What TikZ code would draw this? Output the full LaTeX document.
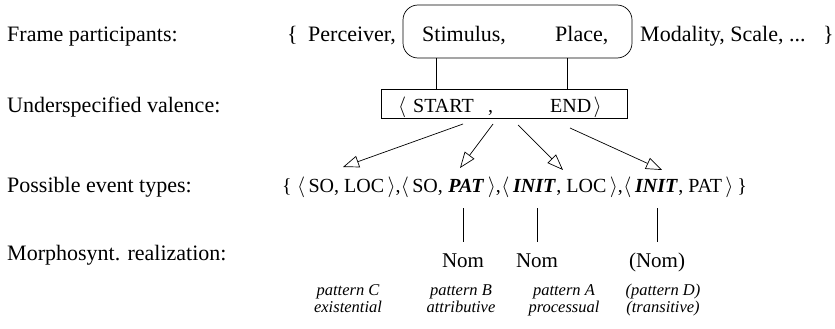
\documentclass[tikz,border=0pt]{standalone}
\usepackage{fontspec}
\setmainfont{Liberation Serif}
\usetikzlibrary{arrows.meta}
\begin{document}
\begin{tikzpicture}[x=1pt,y=-1pt,
  lab/.style={inner sep=0pt, anchor=base west, font=\fontsize{22}{26}\selectfont},
  big/.style={inner sep=0pt, anchor=base west, font=\fontsize{22}{26}\selectfont},
  ev/.style={inner sep=0pt, anchor=base west, font=\fontsize{20}{24}\selectfont},
  nom/.style={inner sep=0pt, anchor=base, font=\fontsize{21}{25}\selectfont},
  patt/.style={inner sep=0pt, anchor=base, font=\fontsize{16.5}{19}\selectfont\itshape},
  conn/.style={line width=0.7pt},
  tri/.style={conn, -{Triangle[open, length=16pt, width=12pt]}}]
\useasboundingbox (0,0) rectangle (835,329);

% row labels
\node[lab] (l1) at (7,42)  {Frame participants:};
\node[lab] (l2) at (7,112) {Underspecified valence:};
\node[lab] (l3) at (7,192) {Possible event types:};
\node[lab] (l4) at (7,260) {Morphosynt. realization:};

% frame participants
\node[big] (lb)    at (287,42) {\{};
\node[big] (perc)  at (308,42) {Perceiver,};
\node[big] (stim)  at (422,42) {Stimulus,};
\node[big] (place) at (555,42) {Place,};
\node[big] (rest)  at (640,42) {Modality, Scale, ...};
\node[big] (rb)    at (823,42) {\}};
\node[draw, conn, rounded corners=15pt, minimum width=229pt, minimum height=53pt, inner sep=0pt] (frame) at (517.5,31.5) {};

% underspecified valence
\node[draw, conn, minimum width=246pt, minimum height=29pt, inner sep=0pt] (val) at (504,103.5) {};
\node[ev] (vl)    at (398,112) {$\langle$};
\node[ev] (start) at (413,112) {START};
\node[ev] (vc)    at (488,112) {,};
\node[ev] (end)   at (550,112) {END};
\node[ev] (vr)    at (end.base east) {\kern2pt$\rangle$};

\coordinate (stimfoot)  at (436,0);
\coordinate (placefoot) at (567,0);
\draw[conn] (stimfoot |- frame.south) -- (stimfoot |- val.north);
\draw[conn] (placefoot |- frame.south) -- (placefoot |- val.north);

% possible event types
\node[ev] (ob)    at (282,192) {\{\kern5pt};
\node[ev] (t1)    at (ob.base east) {$\langle$\,SO, LOC\,$\rangle$,};
\node[ev] (t2a)   at (t1.base east) {$\langle$\,SO,\kern5pt};
\node[ev] (pat)   at (t2a.base east) {\textbf{\textit{PAT}}};
\node[ev] (t2c)   at (pat.base east) {\,$\rangle$,};
\node[ev] (t3a)   at (t2c.base east) {$\langle$\,};
\node[ev] (init1) at (t3a.base east) {\textbf{\textit{INIT}}};
\node[ev] (t3c)   at (init1.base east) {, LOC\,$\rangle$,};
\node[ev] (t4a)   at (t3c.base east) {$\langle$\,};
\node[ev] (init2) at (t4a.base east) {\textbf{\textit{INIT}}};
\node[ev] (t4c)   at (init2.base east) {, PAT\,$\rangle$\kern4pt\}};

% arrows from the valence to the event types
\coordinate (s1) at (463,124); \coordinate (e1) at (343,167);
\coordinate (s2) at (493,124); \coordinate (e2) at (460,168);
\coordinate (s3) at (518,125); \coordinate (e3) at (563,170);
\coordinate (s4) at (570,128); \coordinate (e4) at (662,170);
\draw[tri] (s1) -- (e1);
\draw[tri] (s2) -- (e2);
\draw[tri] (s3) -- (e3);
\draw[tri] (s4) -- (e4);

% morphosyntactic realization
\node[nom] (nomB) at (463,267) {Nom};
\node[nom] (nomA) at (537,267) {Nom};
\node[nom] (nomD) at (657,267) {(Nom)};
\coordinate (evbase) at (0,208);
\coordinate (nomtop) at (0,242);
\draw[conn] (nomB |- evbase) -- (nomB |- nomtop);
\draw[conn] (nomA |- evbase) -- (nomA |- nomtop);
\draw[conn] (nomD |- evbase) -- (nomD |- nomtop);

% pattern labels
\node[patt] (pC1) at (348,295) {pattern C};
\node[patt] (pC2) at (348,312) {existential};
\node[patt] (pB1) at (461,295) {pattern B};
\node[patt] (pB2) at (461,312) {attributive};
\node[patt] (pA1) at (564,295) {pattern A};
\node[patt] (pA2) at (564,312) {processual};
\node[patt] (pD1) at (663,295) {(pattern D)};
\node[patt] (pD2) at (663,312) {(transitive)};
\end{tikzpicture}
\end{document}
